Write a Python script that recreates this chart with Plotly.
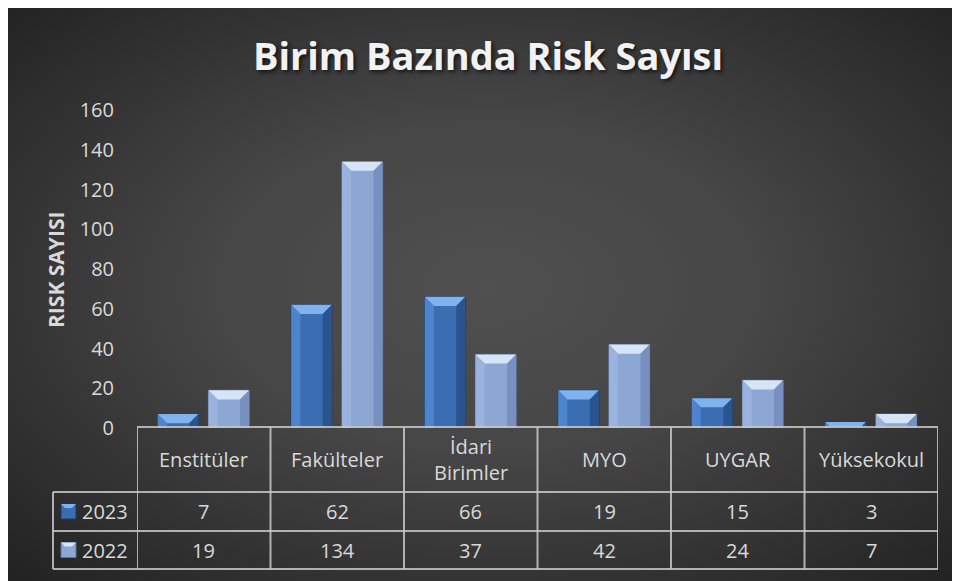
import base64
import plotly.graph_objects as go

# ---------------- data ----------------
categories = ["Enstitüler", "Fakülteler", "İdari Birimler", "MYO", "UYGAR", "Yüksekokul"]
header_labels = ["Enstitüler", "Fakülteler", "İdari<br>Birimler", "MYO", "UYGAR", "Yüksekokul"]
series_names = ["2023", "2022"]
values_2023 = [7, 62, 66, 19, 15, 3]
values_2022 = [19, 134, 37, 42, 24, 7]
y_ticks = [0, 20, 40, 60, 80, 100, 120, 140, 160]
title_text = "Birim Bazında Risk Sayısı"
y_title = "RISK SAYISI"

# ---------------- geometry / style ----------------
W, H = 960, 581
OFF = 8  # page body margin: page coordinates -> figure coordinates
L, R, T, B = 129, 30, 102, 161
PW, PH = W - L - R, H - T - B
YMAX = 160
FONT = "Open Sans"
TXT = "#d9d9d9"
GRID = "rgba(200,200,200,0.85)"


def px(x):
    """page x pixel -> paper x"""
    return (x - OFF - L) / PW


def py(y):
    """page y pixel -> paper y"""
    return (H - B - (y - OFF)) / PH


series = [
    dict(name=series_names[0], vals=values_2023, offset=-0.345,
         body="#3a6db2", top="#80b2ee", left="#4c85cc", right="#2a548e", edge="#1d3a66"),
    dict(name=series_names[1], vals=values_2022, offset=0.035,
         body="#8da7d4", top="#d6e4f8", left="#9ab3de", right="#7790bf", edge="#5f7399"),
]
BAR_W = 0.305
xs = list(range(len(categories)))

fig = go.Figure()
shapes = []
annotations = []

for s in series:
    fig.add_trace(go.Bar(
        x=xs, y=s["vals"], name=s["name"], width=BAR_W, offset=s["offset"],
        marker=dict(color=s["body"], line=dict(color=s["edge"], width=1)),
        hovertext=categories, showlegend=False,
    ))
    # bevel facets computed from the values
    for i, v in zip(xs, s["vals"]):
        x0 = i + s["offset"]
        x1 = x0 + BAR_W
        dy = min(4.6, v * 0.75)
        dpx = dy * PH / YMAX
        dx = dpx / (PW / len(categories))
        shapes.append(dict(type="path", xref="x", yref="y", layer="above",
                           path=f"M{x0},{v} L{x1},{v} L{x1-dx},{v-dy} L{x0+dx},{v-dy} Z",
                           fillcolor=s["top"], line=dict(width=0)))
        shapes.append(dict(type="path", xref="x", yref="y", layer="above",
                           path=f"M{x0},{v} L{x0+dx},{v-dy} L{x0+dx},0 L{x0},0 Z",
                           fillcolor=s["left"], line=dict(width=0)))
        shapes.append(dict(type="path", xref="x", yref="y", layer="above",
                           path=f"M{x1},{v} L{x1-dx},{v-dy} L{x1-dx},0 L{x1},0 Z",
                           fillcolor=s["right"], line=dict(width=0)))

# ---------------- background (radial gradient over the whole figure) ----------------
svg = (
    f'<svg xmlns="http://www.w3.org/2000/svg" width="{W}" height="{H}">'
    '<defs><radialGradient id="g" cx="50%" cy="48%" r="72%">'
    '<stop offset="0" stop-color="#505050"/>'
    '<stop offset="0.4" stop-color="#464646"/>'
    '<stop offset="1" stop-color="#212121"/>'
    '</radialGradient></defs>'
    f'<rect width="{W}" height="{H}" fill="url(#g)"/></svg>'
)
bg_src = "data:image/svg+xml;base64," + base64.b64encode(svg.encode()).decode()

# ---------------- data table ----------------
n = len(categories)
y_head_top, y_r1, y_r2, y_bot = 427, 492, 531, 569
x_left = 53

for yy, xa in [(y_head_top, None), (y_r1, x_left), (y_r2, x_left), (y_bot, x_left)]:
    shapes.append(dict(type="line", xref="paper", yref="paper",
                       x0=px(xa) if xa is not None else 0, x1=1,
                       y0=py(yy), y1=py(yy), line=dict(color=GRID, width=2)))
for k in range(n + 1):
    shapes.append(dict(type="line", xref="x", yref="paper",
                       x0=k - 0.5, x1=k - 0.5, y0=py(y_head_top), y1=py(y_bot),
                       line=dict(color=GRID, width=2)))
shapes.append(dict(type="line", xref="paper", yref="paper",
                   x0=px(x_left), x1=px(x_left), y0=py(y_r1), y1=py(y_bot),
                   line=dict(color=GRID, width=2)))

row_centers = [(y_r1 + y_r2) / 2, (y_r2 + y_bot) / 2]
for i, lab in enumerate(header_labels):
    annotations.append(dict(x=i, y=py((y_head_top + y_r1) / 2), xref="x", yref="paper",
                            text=lab, showarrow=False, xanchor="center", yanchor="middle",
                            font=dict(family=FONT, size=20, color=TXT)))
for s, yc in zip(series, row_centers):
    for i, v in enumerate(s["vals"]):
        annotations.append(dict(x=i, y=py(yc), xref="x", yref="paper", text=str(v),
                                showarrow=False, xanchor="center", yanchor="middle",
                                font=dict(family=FONT, size=20, color=TXT)))
    # legend key icon
    ix0, ix1 = 61, 76
    iy0, iy1 = yc - 7.5, yc + 7.5
    shapes.append(dict(type="rect", xref="paper", yref="paper",
                       x0=px(ix0), x1=px(ix1), y0=py(iy1), y1=py(iy0),
                       fillcolor=s["body"], line=dict(color=s["edge"], width=1)))
    shapes.append(dict(type="path", xref="paper", yref="paper",
                       path=(f"M{px(ix0)},{py(iy0)} L{px(ix1)},{py(iy0)} "
                             f"L{px(ix1-4)},{py(iy0+4)} L{px(ix0+4)},{py(iy0+4)} Z"),
                       fillcolor=s["top"], line=dict(width=0)))
    annotations.append(dict(x=px(80), y=py(yc), xref="paper", yref="paper", text=s["name"],
                            showarrow=False, xanchor="left", yanchor="middle",
                            font=dict(family=FONT, size=20, color=TXT)))

# y axis title
annotations.append(dict(x=px(56), y=py(270), xref="paper", yref="paper", text=f"<b>{y_title}</b>",
                        textangle=-90, showarrow=False, xanchor="center", yanchor="middle",
                        font=dict(family=FONT, size=21, color=TXT)))

fig.update_layout(
    width=W, height=H,
    margin=dict(l=L, r=R, t=T, b=B, autoexpand=False),
    paper_bgcolor="#2a2a2a",
    plot_bgcolor="rgba(0,0,0,0)",
    barmode="group",
    showlegend=False,
    title=dict(text=f"<b>{title_text}</b>", x=(488 - OFF) / W, xref="container", xanchor="center",
               y=1 - (57 - OFF) / H, yref="container", yanchor="middle",
               font=dict(family=FONT, size=38, color="#f2f2f2",
                         shadow="2px 2px 4px rgba(0,0,0,0.7)")),
    xaxis=dict(range=[-0.5, n - 0.5], visible=False, fixedrange=True),
    yaxis=dict(range=[0, YMAX], tickvals=y_ticks, showgrid=False, zeroline=False,
               showline=False, ticks="outside", ticklen=18, tickcolor="rgba(0,0,0,0)",
               tickfont=dict(family=FONT, size=20, color=TXT), fixedrange=True),
    images=[dict(source=bg_src, xref="paper", yref="paper", x=-L / PW, y=1 + T / PH,
                 sizex=W / PW, sizey=H / PH, xanchor="left", yanchor="top",
                 sizing="stretch", layer="below")],
    shapes=shapes,
    annotations=annotations,
)

fig.write_html("out.html")
